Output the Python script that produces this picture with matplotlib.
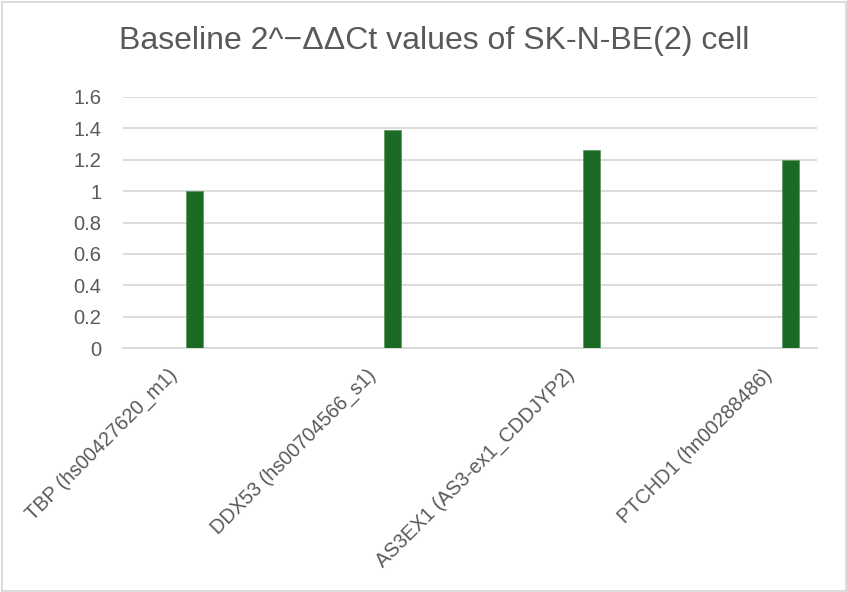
import matplotlib
matplotlib.use("Agg")
import matplotlib.pyplot as plt
from matplotlib.transforms import ScaledTranslation
from matplotlib.patches import Rectangle

categories = ["TBP (hs00427620_m1)", "DDX53 (hs00704566_s1)",
              "AS3EX1 (AS3-ex1_CDDJYP2)", "PTCHD1 (hn00288486)"]
values = [1.0, 1.39, 1.26, 1.2]
yticks = [0, 0.2, 0.4, 0.6, 0.8, 1.0, 1.2, 1.4, 1.6]
yticklabels = ["0", "0.2", "0.4", "0.6", "0.8", "1", "1.2", "1.4", "1.6"]
title = "Baseline 2^\u2212\u0394\u0394Ct values of SK-N-BE(2) cell"

W, H = 847, 592
fig = plt.figure(figsize=(W / 100, H / 100), dpi=100)
ax = fig.add_axes([123 / W, 1 - 348 / H, (817 - 123) / W, (348 - 97) / H])

x = list(range(len(categories)))
ax.bar(x, values, width=17 / 198.5, color="#1b6b24", edgecolor="#5e9a63", linewidth=0.6, zorder=3)

ax.set_ylim(0, 1.6)
ax.set_xlim(-0.36, 3.136)
ax.set_yticks(yticks)
ax.set_yticklabels(yticklabels)
ax.yaxis.grid(True, color="#d9d9d9", linewidth=1.3, zorder=0)
ax.set_axisbelow(True)
for s in ["top", "right", "left"]:
    ax.spines[s].set_visible(False)
ax.spines["bottom"].set_color("#d9d9d9")
ax.spines["bottom"].set_linewidth(1.3)
ax.tick_params(axis="y", length=0, pad=15.5, labelsize=14.5, labelcolor="#595959")
ax.tick_params(axis="x", length=0, pad=8, labelsize=14.3, labelcolor="#595959")
ax.set_xticks(x)
ax.set_xticklabels(categories, rotation=45, ha="right", va="top", rotation_mode="anchor")
for lbl in ax.get_xticklabels():
    lbl.set_transform(lbl.get_transform() + ScaledTranslation(-27 / 100, -6 / 100, fig.dpi_scale_trans))
    lbl.set_fontfamily("Liberation Sans")
for lbl in ax.get_yticklabels():
    lbl.set_fontfamily("Liberation Sans")

fig.text(434.5 / W, 1 - 41 / H, title, ha="center", va="center", fontsize=23,
         color="#595959", family=["Liberation Sans", "DejaVu Sans"])

fig.patches.append(Rectangle((1.5 / W, 1.5 / H), (W - 3) / W, (H - 3) / H, transform=fig.transFigure,
                             fill=False, edgecolor="#d9d9d9", linewidth=1.3))

fig.savefig("out.png", dpi=100)
